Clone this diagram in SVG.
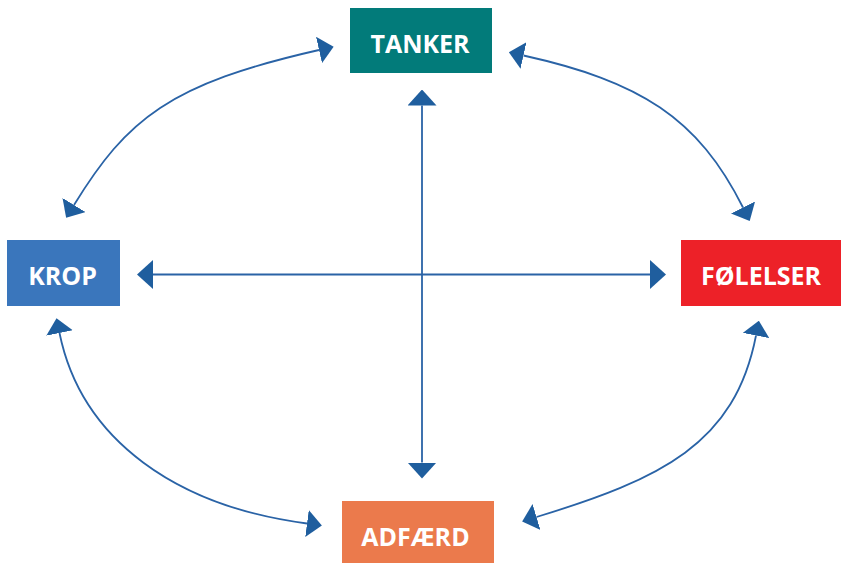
<svg xmlns="http://www.w3.org/2000/svg" width="843" height="563" viewBox="0 0 843 563">
<style>
.lbl{font-family:"Open Sans","Liberation Sans",sans-serif;font-weight:bold;font-size:25px;fill:#ffffff;text-anchor:middle}
.con{fill:none;stroke:#2A63A6;stroke-width:1.8}
</style>
<defs>
<marker id="ah" viewBox="0 0 16 29" refX="0" refY="14.5" markerWidth="16" markerHeight="29" markerUnits="userSpaceOnUse" orient="auto-start-reverse">
<path d="M0,0 L16,14.5 L0,29 Z" fill="#1F5E9E"/>
</marker>
<marker id="ahc" viewBox="0 0 15 27" refX="0" refY="13.5" markerWidth="15" markerHeight="27" markerUnits="userSpaceOnUse" orient="auto-start-reverse">
<path d="M0,0 L15,13.5 L0,27 Z" fill="#1F5E9E"/>
</marker>
</defs>
<rect width="843" height="563" fill="#ffffff"/>
<g id="connectors">
<path class="con" d="M422,105.5 L422,462.5" marker-start="url(#ah)" marker-end="url(#ah)"/>
<path class="con" d="M153,274.5 L650,274.5" marker-start="url(#ah)" marker-end="url(#ah)"/>
<path class="con" d="M319,50 C169,84 127,119 74,205" marker-start="url(#ahc)" marker-end="url(#ahc)"/>
<path class="con" d="M523.5,55.5 C640,81.4 698,117.6 743,207.5" marker-start="url(#ahc)" marker-end="url(#ahc)"/>
<path class="con" d="M59.5,333 C81.5,441 178,506.6 307,523.5" marker-start="url(#ahc)" marker-end="url(#ahc)"/>
<path class="con" d="M756,335.5 C735,444 661,479 536.5,517" marker-start="url(#ahc)" marker-end="url(#ahc)"/>
</g>
<g id="tanker">
<rect x="350" y="8" width="142" height="65" fill="#027B7A"/>
<text class="lbl" x="420" y="53">TANKER</text>
</g>
<g id="krop">
<rect x="7" y="240" width="113" height="66" fill="#3A76BC"/>
<text class="lbl" x="62.5" y="285">KROP</text>
</g>
<g id="folelser">
<rect x="681" y="240" width="160" height="66" fill="#ED2128"/>
<text class="lbl" x="761" y="285">FØLELSER</text>
</g>
<g id="adfaerd">
<rect x="342" y="501" width="152" height="62" fill="#EB7A4C"/>
<text class="lbl" x="415.5" y="546">ADFÆRD</text>
</g>
</svg>
